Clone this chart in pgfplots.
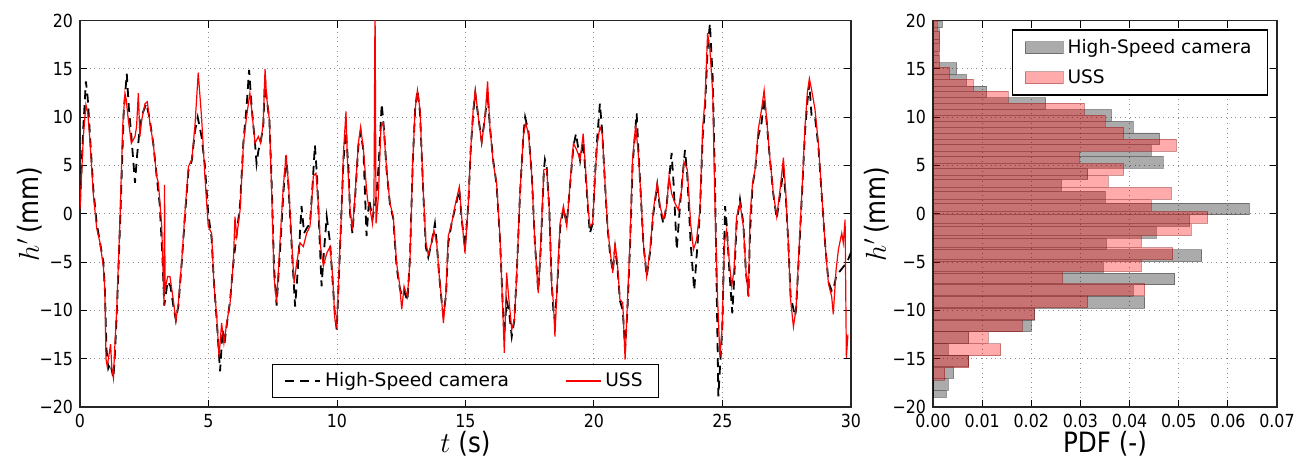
\documentclass[border=0pt]{standalone}
\usepackage{fontspec}
\setmainfont{DejaVu Sans}
\newfontfamily\condfont{DejaVu Sans}[FakeStretch=0.88]
\usepackage{pgfplots}
\pgfplotsset{compat=1.18}

\pgfplotsset{
  common/.style={
    scale only axis, height=193.2pt,
    ymin=-20, ymax=20,
    ytick={-20,-15,-10,-5,0,5,10,15,20},
    yticklabels={−20,−15,−10,−5,0,5,10,15,20},
    grid=major,
    grid style={dotted, gray!90, line width=0.5pt},
    axis line style={line width=0.75pt, black!85},
    major tick length=3.5pt,
    tick style={black, line width=0.5pt},
    tick label style={font=\condfont\fontsize{9}{10}\selectfont},
    /pgf/number format/assume math mode=true,
    scaled ticks=false,
    label style={font=\condfont\fontsize{14}{16}\selectfont},
    xlabel style={at={(axis description cs:0.5,-0.094)}, anchor=center},
    legend cell align=left,
  },
  patchlegend/.style={legend image code/.code={\draw[##1] (0pt,-3pt) rectangle (19pt,3pt);}},
  linelegend/.style={legend image code/.code={\draw[##1] (0pt,0pt) -- (17.5pt,0pt);}},
}

\begin{document}
\begin{tikzpicture}
\path[use as bounding box] (-40pt,-26pt) rectangle (614pt,203.5pt);

\begin{axis}[common, width=385.5pt,
  xmin=0, xmax=30, xtick={0,5,10,15,20,25,30},
  xlabel={$t$ (s)}, ylabel={$h'$\,(mm)},
  ylabel style={at={(axis description cs:-0.065,0.5)}, anchor=center},
  legend style={at={(0.5,0.023)}, anchor=south, legend columns=2, draw=black,
    line width=0.6pt, font=\fontsize{9.3}{11}\selectfont, inner xsep=6pt, inner ysep=2pt,
    /tikz/every even column/.append style={column sep=26pt}},
  linelegend,
]
\addplot[black, line width=0.9pt, dash pattern=on 4.5pt off 3pt] coordinates {
(0.00,1.0) (0.13,9.0) (0.23,13.7) (0.30,12.0) (0.39,8.0) (0.52,2.5) (0.65,-1.0) (0.78,-3.0)
(0.91,-5.0) (0.97,-8.0) (1.03,-14.0) (1.10,-16.0) (1.18,-15.5) (1.30,-17.0) (1.36,-14.5)
(1.45,-9.0) (1.58,0.5) (1.70,10.5) (1.82,14.5) (1.90,11.0) (2.00,8.0) (2.14,3.2) (2.22,6.0)
(2.33,9.0) (2.45,10.5) (2.58,11.4) (2.70,10.0) (2.85,7.3) (2.98,4.0) (3.10,1.0) (3.20,-4.0)
(3.28,-9.5) (3.41,-7.0) (3.52,-7.5) (3.63,-9.5) (3.73,-11.0) (3.83,-9.5) (3.96,-5.0)
(4.09,0.0) (4.22,4.5) (4.35,5.5) (4.47,8.5) (4.58,10.0) (4.73,8.0) (4.86,5.0) (4.99,0.0)
(5.12,-2.5) (5.21,-7.0) (5.32,-11.0) (5.45,-16.3) (5.55,-12.0) (5.62,-13.5) (5.71,-11.5)
(5.84,-9.0) (5.97,-5.0) (6.10,-2.0) (6.23,1.0) (6.36,7.5) (6.48,11.0) (6.58,14.9) (6.68,11.0)
(6.81,7.3) (6.87,5.2) (6.94,6.5) (7.03,7.5) (7.13,9.0) (7.20,14.0) (7.26,12.0) (7.37,9.7)
(7.46,3.0) (7.55,-5.5) (7.65,-9.5) (7.78,-4.0) (7.91,2.0) (8.02,6.0) (8.11,3.0) (8.24,-3.5)
(8.37,-9.6) (8.47,-6.0) (8.62,0.8) (8.72,-2.0) (8.82,-1.5) (8.95,-1.0) (9.05,3.0) (9.14,7.1)
(9.22,4.0) (9.30,-1.0) (9.40,-7.5) (9.49,-4.0) (9.60,-0.3) (9.73,-3.0) (9.83,-7.0)
(9.92,-10.5) (9.99,-12.0) (10.12,-3.5) (10.25,5.5) (10.35,8.5) (10.45,4.5) (10.51,0.0)
(10.60,-2.0) (10.70,1.5) (10.83,7.0) (10.92,8.5) (11.03,6.5) (11.15,-2.3) (11.25,1.5)
(11.38,-0.5) (11.52,1.5) (11.62,5.0) (11.74,11.4) (11.82,9.0) (11.93,4.5) (12.06,1.0)
(12.19,-0.5) (12.32,-5.5) (12.43,-7.5) (12.52,-8.5) (12.61,-8.0) (12.74,-9.0) (12.84,-4.5)
(12.95,5.5) (13.04,10.8) (13.13,12.8) (13.23,10.5) (13.36,2.0) (13.46,-3.5) (13.55,-4.5)
(13.68,-3.0) (13.81,-1.0) (13.88,-3.0) (13.98,-6.5) (14.07,-9.0) (14.14,-10.5) (14.24,-8.5)
(14.33,-3.0) (14.46,-1.0) (14.59,0.5) (14.76,2.5) (14.85,-0.5) (14.98,-3.5) (15.11,1.0)
(15.20,6.5) (15.30,10.5) (15.38,12.5) (15.50,10.0) (15.63,7.5) (15.76,10.0) (15.86,12.5)
(15.95,9.0) (16.08,5.5) (16.21,3.0) (16.34,-2.5) (16.45,-9.5) (16.51,-12.5) (16.60,-9.0)
(16.69,-10.0) (16.80,-12.7) (16.90,-11.0) (16.99,-6.5) (17.12,2.0) (17.25,8.0) (17.32,10.0)
(17.45,8.5) (17.58,4.0) (17.70,-3.0) (17.83,-8.0) (17.93,-3.5) (18.05,4.5) (18.09,5.6)
(18.16,4.8) (18.26,0.5) (18.35,-7.0) (18.42,-10.0) (18.48,-11.0) (18.57,-7.5) (18.68,-1.5)
(18.81,0.5) (18.94,-1.0) (19.07,3.0) (19.20,7.0) (19.30,8.3) (19.46,5.5) (19.58,7.5)
(19.69,3.5) (19.78,0.0) (19.84,-2.0) (19.95,-1.0) (20.04,4.0) (20.13,8.0) (20.23,11.4)
(20.32,8.5) (20.43,3.0) (20.53,-1.5) (20.62,-4.0) (20.73,-6.0) (20.82,-3.5) (20.91,-5.5)
(21.01,-9.0) (21.12,-10.0) (21.21,-14.0) (21.30,-10.0) (21.40,-3.5) (21.50,5.0) (21.66,10.4)
(21.72,7.0) (21.82,2.0) (21.92,-3.0) (22.05,-6.5) (22.18,-4.0) (22.31,0.0) (22.46,3.0)
(22.57,0.5) (22.70,-1.0) (22.83,1.0) (23.02,6.3) (23.10,3.0) (23.22,-3.7) (23.35,1.0)
(23.54,6.6) (23.63,4.0) (23.76,-3.0) (23.90,-7.9) (23.99,-4.5) (24.12,0.0) (24.23,8.0)
(24.32,11.0) (24.42,17.0) (24.51,19.7) (24.62,14.0) (24.71,3.0) (24.84,-18.9) (24.90,-16.0)
(24.99,-12.0) (25.10,0.8) (25.16,-1.0) (25.27,-6.0) (25.38,-10.3) (25.45,-7.0) (25.55,-1.0)
(25.68,1.5) (25.81,-1.0) (25.91,-6.0) (26.01,-8.5) (26.07,-2.0) (26.17,3.0) (26.27,4.5)
(26.39,8.0) (26.52,9.4) (26.62,12.0) (26.72,9.5) (26.85,5.5) (26.98,2.0) (27.11,-0.5)
(27.24,2.0) (27.37,4.5) (27.47,1.5) (27.56,-3.0) (27.65,-8.5) (27.82,-10.6) (27.86,-10.0)
(27.99,-3.5) (28.12,3.5) (28.21,8.5) (28.30,11.5) (28.38,13.5) (28.47,10.0) (28.60,10.0)
(28.73,7.0) (28.86,2.0) (28.99,-3.0) (29.12,-7.0) (29.25,-8.0) (29.31,-7.9) (29.42,-6.5)
(29.55,-6.0) (29.70,-5.5) (29.85,-5.0) (30.00,-4.0)
};
\addlegendentry{High-Speed camera}
\addplot[red, line width=0.6pt] coordinates {
(0.00,0.5) (0.13,8.0) (0.23,11.3) (0.30,10.5) (0.39,7.5) (0.52,2.0) (0.65,-1.5) (0.78,-3.0)
(0.91,-5.5) (0.97,-8.0) (1.01,-15.0) (1.06,-15.8) (1.14,-14.4) (1.19,-13.5) (1.24,-16.0)
(1.30,-17.0) (1.35,-14.0) (1.43,-9.9) (1.56,-0.3) (1.66,9.0) (1.75,12.5) (1.80,11.8)
(1.88,9.7) (2.00,7.3) (2.14,8.0) (2.20,9.0) (2.27,12.5) (2.33,8.0) (2.40,9.7) (2.53,11.4)
(2.62,11.6) (2.72,9.4) (2.85,7.3) (2.98,3.9) (3.05,3.2) (3.18,-1.3) (3.24,-6.5) (3.27,-9.5)
(3.29,3.0) (3.31,-7.9) (3.41,-6.5) (3.50,-6.5) (3.63,-8.9) (3.73,-11.1) (3.83,-9.2)
(3.96,-4.8) (4.09,0.4) (4.22,4.9) (4.35,5.6) (4.47,9.0) (4.60,14.6) (4.73,10.0) (4.86,3.9)
(4.99,-1.3) (5.12,-2.0) (5.21,-7.2) (5.32,-10.6) (5.41,-14.8) (5.51,-11.3) (5.60,-13.4)
(5.71,-11.3) (5.84,-9.2) (5.97,-4.8) (6.03,-0.3) (6.10,-2.3) (6.23,0.4) (6.36,7.3)
(6.48,10.0) (6.61,12.5) (6.68,10.8) (6.81,7.3) (6.94,8.0) (7.03,7.3) (7.13,9.4) (7.20,15.0)
(7.26,12.1) (7.37,9.7) (7.46,2.1) (7.55,-6.5) (7.65,-9.2) (7.78,-3.0) (7.91,2.8) (8.02,6.1)
(8.11,3.2) (8.24,-3.0) (8.33,-7.2) (8.43,-5.1) (8.56,-3.0) (8.69,-3.4) (8.82,-2.0)
(8.95,-1.3) (9.08,3.9) (9.18,4.2) (9.27,1.1) (9.36,-3.4) (9.47,-5.4) (9.60,-4.1)
(9.73,-3.4) (9.83,-6.5) (9.92,-11.0) (9.99,-11.7) (10.12,-3.0) (10.18,0.4) (10.25,6.3)
(10.35,10.6) (10.40,5.9) (10.51,0.4) (10.60,-1.7) (10.70,1.8) (10.83,7.3) (10.92,9.0)
(11.03,6.6) (11.13,3.2) (11.19,1.4) (11.29,0.4) (11.38,-1.0) (11.44,1.8) (11.48,22.0)
(11.52,-1.0) (11.61,1.8) (11.71,9.0) (11.80,9.4) (11.93,4.6) (12.06,1.1) (12.19,-0.3)
(12.32,-5.1) (12.43,-7.2) (12.52,-9.9) (12.61,-7.5) (12.74,-8.6) (12.84,-4.8) (12.95,5.6)
(13.04,10.8) (13.13,12.8) (13.23,10.8) (13.36,2.1) (13.46,-3.0) (13.55,-4.2) (13.68,-3.0)
(13.77,-1.7) (13.88,-3.0) (13.98,-6.5) (14.07,-8.9) (14.14,-11.3) (14.24,-8.2) (14.33,-2.3)
(14.46,-1.0) (14.59,0.8) (14.76,2.8) (14.85,-0.3) (14.98,-4.1) (15.11,1.1) (15.20,6.6)
(15.30,10.8) (15.38,12.8) (15.50,10.0) (15.63,7.3) (15.76,10.0) (15.86,13.7) (15.95,9.0)
(16.08,5.2) (16.21,3.2) (16.34,-2.3) (16.45,-9.9) (16.51,-14.4) (16.60,-6.1) (16.69,-8.9)
(16.80,-12.0) (16.90,-11.0) (16.99,-6.5) (17.12,2.1) (17.25,8.0) (17.34,9.4) (17.45,8.3)
(17.58,3.9) (17.70,-3.0) (17.83,-8.2) (17.93,-3.0) (18.05,4.6) (18.16,4.6) (18.26,0.4)
(18.35,-7.2) (18.42,-9.2) (18.48,-12.7) (18.57,-7.2) (18.68,-1.0) (18.81,0.8) (18.94,-1.3)
(19.07,3.2) (19.20,7.3) (19.33,6.6) (19.46,5.6) (19.58,8.3) (19.69,3.9) (19.78,0.4)
(19.84,-1.3) (19.95,-1.0) (20.04,3.9) (20.13,7.3) (20.23,9.0) (20.32,8.3) (20.43,3.2)
(20.53,-1.3) (20.62,-3.7) (20.73,-6.1) (20.82,-3.0) (20.91,-5.1) (21.01,-8.9) (21.12,-9.2)
(21.21,-15.1) (21.30,-9.2) (21.40,-3.0) (21.50,5.6) (21.62,9.2) (21.72,6.3) (21.82,2.1)
(21.92,-3.0) (22.05,-6.5) (22.18,-3.7) (22.31,0.4) (22.46,3.2) (22.57,0.8) (22.70,-0.6)
(22.83,0.8) (22.92,3.9) (23.02,2.1) (23.15,1.1) (23.28,0.4) (23.41,2.5) (23.50,5.4)
(23.63,4.6) (23.76,-1.0) (23.87,-3.7) (23.99,-2.7) (24.12,0.4) (24.23,9.0) (24.32,11.8)
(24.42,18.7) (24.51,17.0) (24.62,12.5) (24.71,0.4) (24.81,-8.9) (24.90,-14.8) (24.99,-11.7)
(25.07,-3.0) (25.16,-1.7) (25.27,-5.1) (25.36,-7.5) (25.45,-5.8) (25.55,-0.3) (25.68,1.1)
(25.81,-1.3) (25.91,-5.8) (26.01,-8.6) (26.07,-0.3) (26.17,3.2) (26.27,4.6) (26.39,8.7)
(26.52,10.8) (26.62,12.8) (26.72,9.7) (26.85,5.6) (26.98,2.1) (27.11,-0.3) (27.24,2.5)
(27.37,5.8) (27.47,1.8) (27.56,-3.0) (27.65,-8.9) (27.76,-11.7) (27.86,-9.9) (27.99,-3.0)
(28.12,3.9) (28.21,9.0) (28.30,12.5) (28.38,14.0) (28.47,12.8) (28.60,10.8) (28.73,7.3)
(28.86,2.1) (28.99,-3.0) (29.12,-7.2) (29.25,-8.6) (29.31,-10.4) (29.42,-5.8) (29.51,-3.7)
(29.64,-2.0) (29.70,-3.0) (29.77,-0.6) (29.82,-14.9) (29.88,-12.5)
};
\addlegendentry{USS}
\end{axis}

\begin{axis}[common, at={(426.5pt,0pt)}, width=172pt,
  xmin=0, xmax=0.07,
  xtick={0,0.01,0.02,0.03,0.04,0.05,0.06,0.07},
  xticklabels={0.00,0.01,0.02,0.03,0.04,0.05,0.06,0.07},
  xlabel={PDF (-)}, ylabel={$h'$\,(mm)},
  ylabel style={at={(axis description cs:-0.163,0.5)}, anchor=center},
  legend style={at={(0.974,0.977)}, anchor=north east, draw=black,
    line width=0.6pt, font=\fontsize{9.3}{11}\selectfont, inner xsep=6pt, inner ysep=2.5pt,
    row sep=2.5pt},
]
\addplot[xbar interval, fill=black, fill opacity=0.33, draw=black, draw opacity=0.35,
  line width=0.4pt, patchlegend] coordinates {
(0.0027,-19.00) (0.0031,-18.25) (0.0042,-17.04) (0.0073,-15.83) (0.0031,-14.62)
(0.0073,-13.41) (0.0200,-12.20) (0.0207,-10.99) (0.0431,-9.78) (0.0407,-8.57)
(0.0492,-7.36) (0.0346,-6.15) (0.0547,-4.94) (0.0353,-3.73) (0.0454,-2.52)
(0.0522,-1.31) (0.0644,-0.10) (0.0350,1.11) (0.0261,2.32) (0.0315,3.53)
(0.0468,4.74) (0.0444,5.95) (0.0461,7.16) (0.0407,8.37) (0.0363,9.58)
(0.0229,10.79) (0.0109,12.00) (0.0068,13.21) (0.0048,14.42) (0.0010,15.63)
(0.0012,16.84) (0.0012,18.05) (0.0019,19.26) (0,19.90)
};
\addlegendentry{High-Speed camera}
\addplot[xbar interval, fill=red, fill opacity=0.33, draw=red!40!black, draw opacity=0.35,
  line width=0.4pt, patchlegend] coordinates {
(0.0024,-17.20) (0.0073,-15.95) (0.0138,-14.71) (0.0112,-13.46) (0.0182,-12.22)
(0.0207,-10.97) (0.0315,-9.72) (0.0431,-8.48) (0.0264,-7.23) (0.0424,-5.99)
(0.0488,-4.74) (0.0424,-3.50) (0.0525,-2.25) (0.0559,-1.00) (0.0444,0.24)
(0.0485,1.49) (0.0356,2.73) (0.0388,3.98) (0.0298,5.23) (0.0495,6.47)
(0.0388,7.72) (0.0350,8.96) (0.0308,10.21) (0.0153,11.45) (0.0082,12.70)
(0.0034,13.94) (0.0014,15.19) (0.0012,16.43) (0.0014,17.68) (0.0008,18.92) (0,20.17)
};
\addlegendentry{USS}
\end{axis}
\end{tikzpicture}
\end{document}
